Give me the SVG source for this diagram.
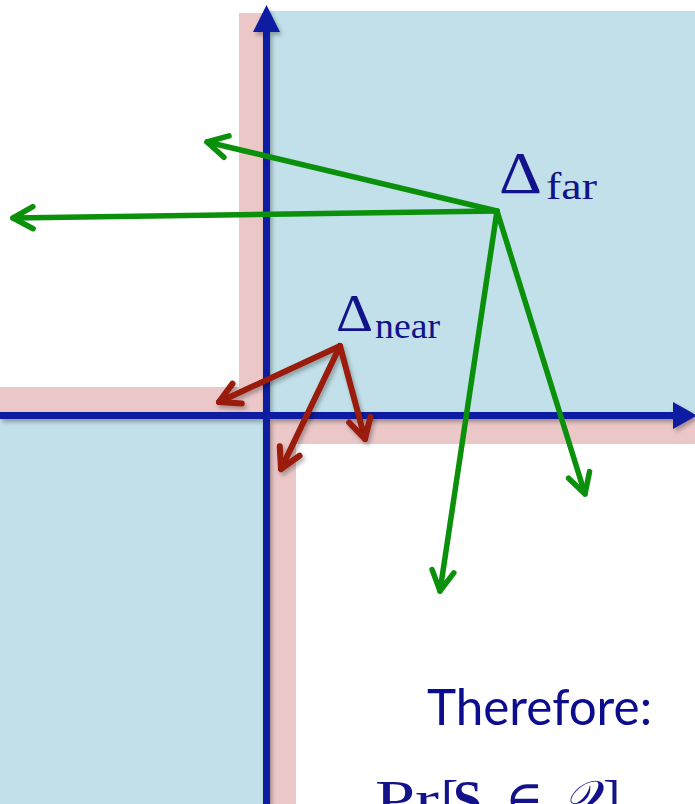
<svg xmlns="http://www.w3.org/2000/svg" width="695" height="804" viewBox="0 0 695 804">
  <style>
    .pink { fill: #ebc7c8; }
    .blue { fill: #c2e0e9; }
    .axis { stroke: #0a1ea0; stroke-width: 7; fill: none; }
    .axhead { fill: #0a1ea0; }
    .green { stroke: #0a900a; stroke-width: 5.5; stroke-linecap: round; fill: none; }
    .red { stroke: #991a0a; stroke-width: 6; stroke-linecap: round; fill: none; }
    .math { font-family: "Liberation Serif", "DejaVu Serif", serif; fill: #12128a; }
    .sans { font-family: Lato, "Open Sans", "Liberation Sans", sans-serif; fill: #0c0c8e; }
  </style>
  <defs>
    <filter id="sh" x="-20%" y="-20%" width="140%" height="140%">
      <feDropShadow dx="2" dy="3" stdDeviation="2" flood-color="#000" flood-opacity="0.3"/>
    </filter>
    <marker id="gh" markerUnits="userSpaceOnUse" markerWidth="40" markerHeight="40" refX="0" refY="0" viewBox="-30 -20 40 40" orient="auto" overflow="visible">
      <path d="M -20 -11 L 0 0 L -20 11" stroke="#0a900a" stroke-width="5.5" stroke-linecap="round" stroke-linejoin="round" fill="none"/>
    </marker>
    <marker id="rh" markerUnits="userSpaceOnUse" markerWidth="40" markerHeight="40" refX="0" refY="0" viewBox="-30 -20 40 40" orient="auto" overflow="visible">
      <path d="M -20 -11 L 0 0 L -20 11" stroke="#991a0a" stroke-width="6" stroke-linecap="round" stroke-linejoin="round" fill="none"/>
    </marker>
  </defs>

  <g id="regions">
    <rect class="pink" x="239" y="13" width="40" height="400"/>
    <rect class="pink" x="0" y="387" width="270" height="26"/>
    <rect class="blue" x="268" y="11" width="427" height="402"/>
    <rect class="blue" x="0" y="416" width="266" height="388"/>
    <rect class="pink" x="266" y="416" width="429" height="28"/>
    <rect class="pink" x="266" y="416" width="30" height="388"/>
  </g>

  <g id="axes" filter="url(#sh)">
    <line class="axis" x1="0" y1="415.5" x2="676" y2="415.5"/>
    <polygon class="axhead" points="673,402 697,415.5 673,429"/>
    <line class="axis" x1="266.5" y1="804" x2="266.5" y2="30"/>
    <polygon class="axhead" points="253,32 266.5,5 280,32"/>
  </g>

  <g id="connectors">
    <g id="far-arrows">
      <line class="green" x1="497" y1="211" x2="207" y2="142" marker-end="url(#gh)"/>
      <line class="green" x1="497" y1="211" x2="13" y2="218" marker-end="url(#gh)"/>
      <line class="green" x1="497" y1="211" x2="440" y2="591" marker-end="url(#gh)"/>
      <line class="green" x1="497" y1="211" x2="585" y2="494" marker-end="url(#gh)"/>
    </g>
    <g id="near-arrows" filter="url(#sh)">
      <line class="red" x1="340" y1="346" x2="219" y2="402" marker-end="url(#rh)"/>
      <line class="red" x1="340" y1="346" x2="281" y2="469" marker-end="url(#rh)"/>
      <line class="red" x1="340" y1="346" x2="365" y2="439" marker-end="url(#rh)"/>
    </g>
  </g>

  <g id="delta-far">
    <text class="math" x="499" y="193" font-size="60" textLength="43" lengthAdjust="spacingAndGlyphs">Δ</text>
    <text class="math" x="546" y="199" font-size="38" textLength="51" lengthAdjust="spacingAndGlyphs">far</text>
  </g>
  <g id="delta-near">
    <text class="math" x="336" y="331" font-size="52" textLength="37" lengthAdjust="spacingAndGlyphs">Δ</text>
    <text class="math" x="375" y="338" font-size="36" textLength="65" lengthAdjust="spacingAndGlyphs">near</text>
  </g>

  <g id="conclusion">
    <text class="sans" x="427" y="725" font-size="50" textLength="225" lengthAdjust="spacingAndGlyphs">Therefore:</text>
    <text class="math" y="817" font-size="52"><tspan x="375" textLength="64" lengthAdjust="spacingAndGlyphs">Pr</tspan><tspan x="441">[</tspan><tspan x="453" font-weight="bold">S</tspan><tspan x="505">∈</tspan><tspan x="560" font-style="italic">𝒬</tspan><tspan x="603">]</tspan></text>
  </g>
</svg>
